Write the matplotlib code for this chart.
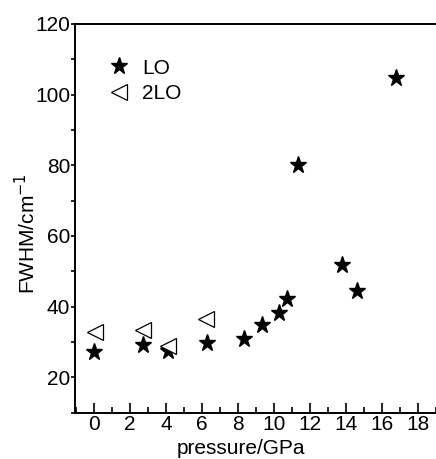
import numpy as np
import matplotlib.pyplot as plt
from matplotlib.ticker import MultipleLocator

plt.rcParams['font.family'] = ['Liberation Sans', 'DejaVu Sans']

# LO mode FWHM vs pressure
lo_p = [0.0, 2.7, 4.1, 6.3, 8.35, 9.35, 10.3, 10.75, 11.35, 13.8, 14.6, 16.8]
lo_w = [27.2, 29.2, 27.5, 29.7, 30.7, 34.7, 38.2, 42.2, 80.0, 51.8, 44.3, 104.8]

# 2LO mode FWHM vs pressure
two_lo_p = [0.05, 2.7, 4.1, 6.25]
two_lo_w = [32.7, 33.3, 28.8, 36.6]

fig = plt.figure(figsize=(4.36, 4.59), dpi=100)
ax = fig.add_axes([0.172, 0.101, 0.828, 0.847])

ax.plot(lo_p, lo_w, linestyle='none', marker='*', markersize=12.5,
        color='black', label='LO')
ax.plot(two_lo_p, two_lo_w, linestyle='none', marker='<', markersize=12,
        markerfacecolor='white', markeredgecolor='black', markeredgewidth=0.9,
        label='2LO', zorder=3)

ax.set_xlim(-1.05, 19.0)
ax.set_ylim(10, 120)

ax.xaxis.set_major_locator(MultipleLocator(2))
ax.xaxis.set_minor_locator(MultipleLocator(1))
ax.yaxis.set_minor_locator(MultipleLocator(10))
ax.set_yticks([20, 40, 60, 80, 100, 120])

ax.tick_params(axis='x', which='major', direction='in', length=7, width=1.2,
               labelsize=15, pad=2)
ax.tick_params(axis='x', which='minor', direction='in', length=4, width=1.2)
ax.tick_params(axis='y', which='major', direction='out', length=3, width=1.2,
               labelsize=15, pad=0.5)
ax.tick_params(axis='y', which='minor', direction='out', length=3, width=1.2)

for s in ['left', 'bottom', 'top']:
    ax.spines[s].set_linewidth(1.4)
ax.spines['right'].set_visible(False)

ax.set_xlabel('pressure/GPa', fontsize=15)
ax.xaxis.set_label_coords(0.46, -0.067)
ax.set_ylabel('FWHM/cm$^{-1}$', fontsize=15)
ax.yaxis.set_label_coords(-0.1, 0.46)

ax.legend(loc='upper left', bbox_to_anchor=(0.06, 0.932), frameon=False,
          fontsize=15, handletextpad=0.5, labelspacing=0.3, handlelength=1.3,
          borderaxespad=0.0)

fig.savefig('out.png', dpi=100)
